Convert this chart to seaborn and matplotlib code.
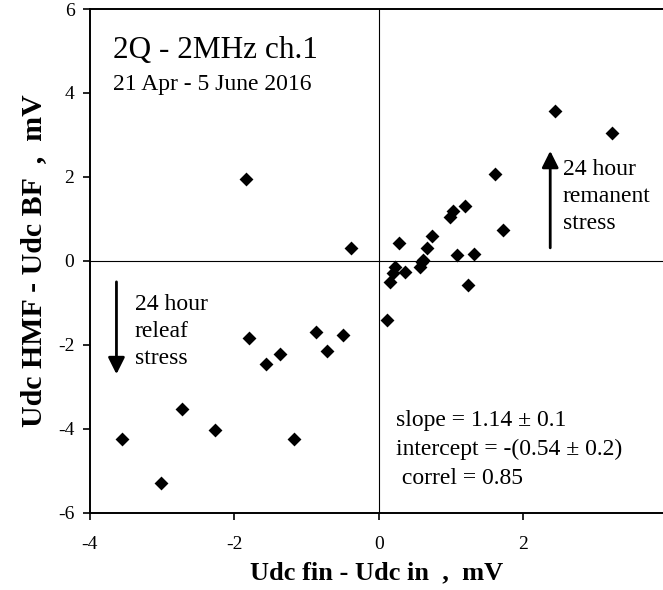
import matplotlib
matplotlib.use("Agg")
import matplotlib.pyplot as plt
import seaborn as sns
import pandas as pd

# Voltage drift (Udc fin - Udc in) vs. HMF/BF difference, mV
udc_drift = [-1.84, -0.39, 2.43, 3.23, 1.61, 1.19, 1.03, 0.99, 1.71, 0.74,
             0.285, 0.67, 1.08, 1.32, 1.23, 0.11, 0.225, 0.36, 0.16, 0.20,
             0.61, 0.57, 0.595, -1.80, -1.56, -1.37, -0.87, -0.72, -0.49,
             -2.72, -2.27, -1.17, -3.55, -3.02]
udc_hmf_bf = [1.95, 0.30, 3.57, 3.04, 2.08, 1.31, 1.20, 1.05, 0.74, 0.60,
              0.42, 0.30, 0.14, 0.16, -0.57, -1.42, -0.15, -0.27, -0.50, -0.30,
              0.02, -0.14, -0.02, -1.83, -2.46, -2.23, -1.69, -2.14, -1.77,
              -3.53, -4.04, -4.24, -4.24, -5.29]

x_ticks = [-4, -2, 0, 2]
y_ticks = [-6, -4, -2, 0, 2, 4, 6]

df = pd.DataFrame({"drift": udc_drift, "diff": udc_hmf_bf})

sns.set_theme(style="white")
plt.rcParams["font.family"] = ["Liberation Serif", "DejaVu Serif"]
plt.rcParams["text.color"] = "black"
plt.rcParams["axes.labelcolor"] = "black"

fig = plt.figure(figsize=(6.63, 5.90), dpi=100)
ax = fig.add_axes([0.1353, 0.131, 1.0 - 0.1353, 0.9847 - 0.131])

sns.scatterplot(data=df, x="drift", y="diff", marker="D", color="black",
                s=50, linewidth=0, ax=ax, zorder=3)

ax.set_xlim(-4, 3.93)
ax.set_ylim(-6, 6)
ax.set_xticks(x_ticks)
ax.set_yticks(y_ticks)
ax.set_xticklabels([str(t) for t in x_ticks])
ax.set_yticklabels([str(t) for t in y_ticks])

for side in ["left", "bottom", "top"]:
    ax.spines[side].set_visible(True)
    ax.spines[side].set_color("black")
    ax.spines[side].set_linewidth(1.4)
ax.spines["right"].set_visible(False)

ax.tick_params(axis="both", direction="out", length=5, width=1.2,
               color="black", labelsize=14, labelcolor="black")
ax.tick_params(axis="x", bottom=True, pad=12)
ax.tick_params(axis="y", left=True, pad=6)

# zero reference lines
ax.axhline(0, color="black", linewidth=0.8, zorder=1)
ax.axvline(0, color="black", linewidth=0.8, zorder=1)

ax.set_xlabel("Udc fin - Udc in  ,  mV", fontsize=19, fontweight="bold",
              labelpad=6, color="black")
ax.set_ylabel("Udc HMF - Udc BF  ,  mV", fontsize=21.5, fontweight="bold",
              labelpad=8, color="black")

ax.text(-3.68, 5.02, "2Q - 2MHz ch.1", fontsize=22.5, va="center", ha="left")
ax.text(-3.68, 4.19, "21 Apr - 5 June 2016", fontsize=17, va="center", ha="left")

# stress direction arrows
arrow_style = dict(arrowstyle="-|>,head_length=0.5,head_width=0.25",
                   color="black", lw=2, mutation_scale=20,
                   shrinkA=0, shrinkB=0)
ax.annotate("", xy=(2.37, 2.62), xytext=(2.37, 0.31), arrowprops=arrow_style)
ax.text(2.54, 1.54, "24 hour\nremanent\nstress", fontsize=17, va="center",
        ha="left", linespacing=1.38)

ax.annotate("", xy=(-3.63, -2.70), xytext=(-3.63, -0.50), arrowprops=arrow_style)
ax.text(-3.38, -1.69, "24 hour\nreleaf\nstress", fontsize=17, va="center",
        ha="left", linespacing=1.38)

ax.text(0.23, -4.5, "slope = 1.14 \u00b1 0.1\nintercept = -(0.54 \u00b1 0.2)\n correl = 0.85",
        fontsize=17, va="center", ha="left", linespacing=1.48)

fig.savefig("out.png", dpi=100)
